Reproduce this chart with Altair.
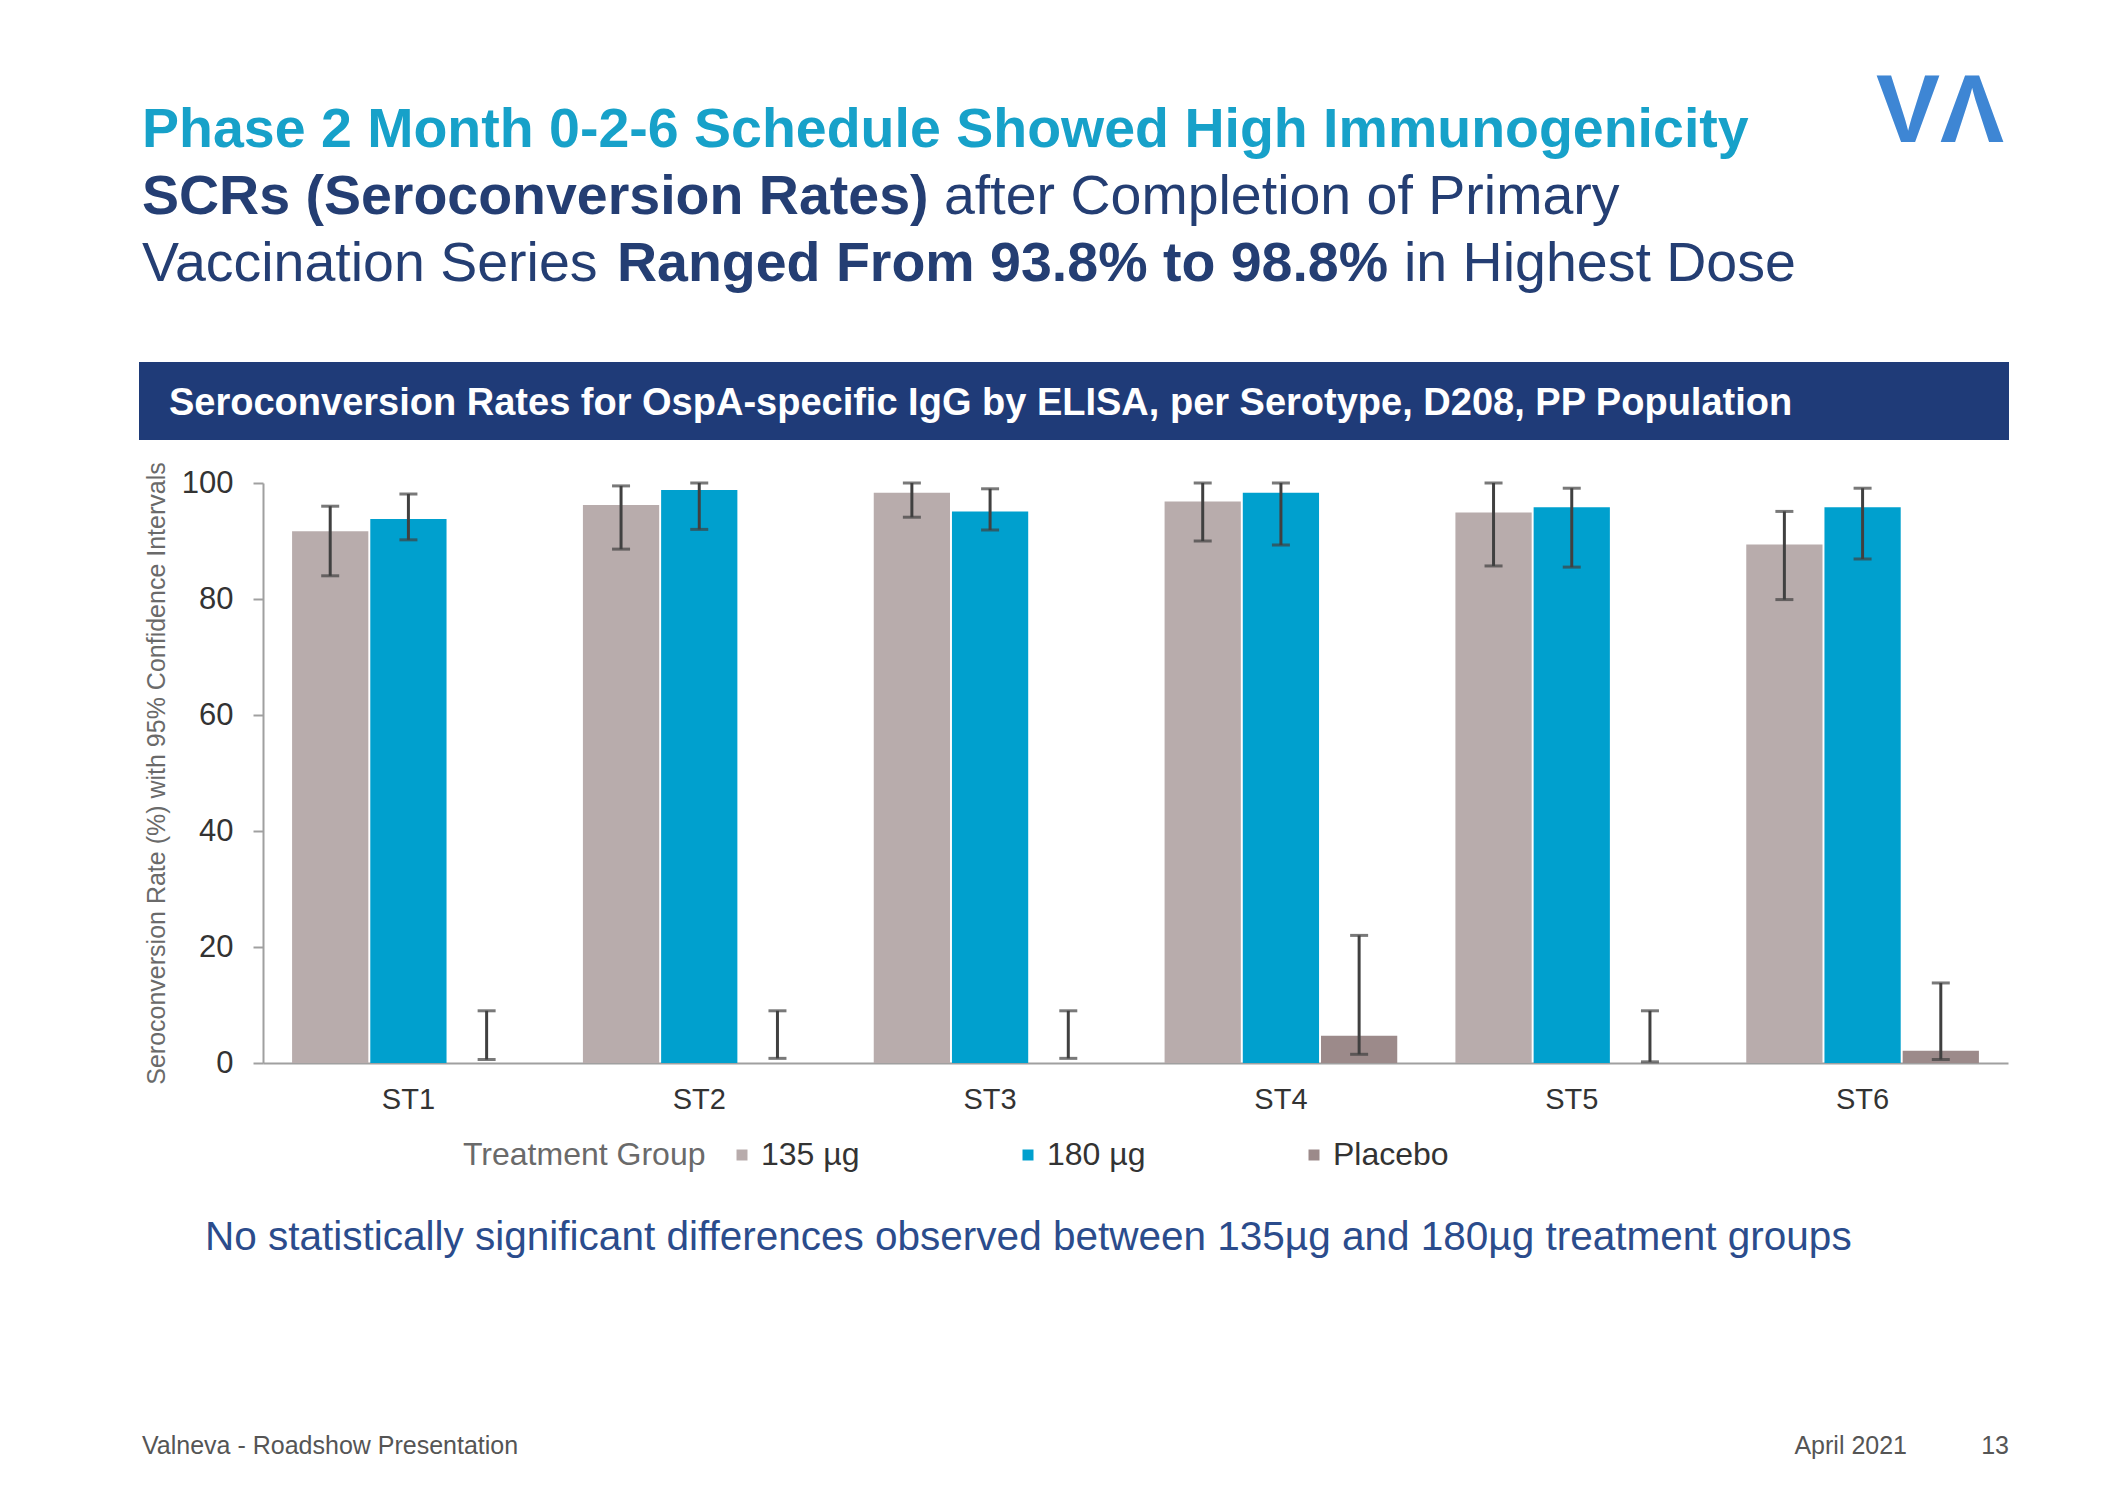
import altair as alt
import pandas as pd

# ---------------- data ----------------
serotypes = ["ST1", "ST2", "ST3", "ST4", "ST5", "ST6"]
groups = ["135 µg", "180 µg", "Placebo"]
group_colors = ["#B8ACAC", "#00A0CE", "#9C8A8A"]

scr_135 = [91.7, 96.2, 98.3, 96.8, 94.9, 89.4]
lo_135 = [84.0, 88.6, 94.1, 90.0, 85.7, 79.9]
hi_135 = [96.0, 99.5, 100.0, 100.0, 100.0, 95.1]

scr_180 = [93.8, 98.8, 95.1, 98.3, 95.8, 95.8]
lo_180 = [90.2, 92.0, 91.9, 89.3, 85.5, 86.9]
hi_180 = [98.1, 100.0, 99.0, 100.0, 99.1, 99.1]

scr_pbo = [0.0, 0.0, 0.0, 4.7, 0.0, 2.1]
lo_pbo = [0.6, 0.8, 0.8, 1.5, 0.2, 0.6]
hi_pbo = [9.0, 9.0, 9.0, 22.0, 9.0, 13.8]

y_ticks = [0, 20, 40, 60, 80, 100]

title_line1 = "Phase 2 Month 0-2-6 Schedule Showed High Immunogenicity"
title_line2 = ["SCRs (Seroconversion Rates)", "after Completion of Primary"]
title_line3 = ["Vaccination Series", "Ranged From 93.8% to 98.8%", "in Highest Dose"]
header_text = "Seroconversion Rates for OspA-specific IgG by ELISA, per Serotype, D208, PP Population"
y_title = "Seroconversion Rate (%) with 95% Confidence Intervals"
legend_title = "Treatment Group"
footnote = "No statistically significant differences observed between 135µg and 180µg treatment groups"
footer_left = "Valneva - Roadshow Presentation"
footer_date = "April 2021"
footer_page = "13"
logo_text = "VΛ"

# ---------------- layout ----------------
FONT = "Liberation Sans"
PL, PT = 263, 483          # plot-area origin on the page
W, H = 1745, 580            # plot-area size
PR, PB = 2118 - PL - W, 1500 - PT - H

NAVY = "#243E73"
TEAL = "#17A1C9"

rows = []
for i, st in enumerate(serotypes):
    for g, v, lo, hi in ((groups[0], scr_135, lo_135, hi_135),
                         (groups[1], scr_180, lo_180, hi_180),
                         (groups[2], scr_pbo, lo_pbo, hi_pbo)):
        rows.append({"serotype": st, "group": g, "value": v[i], "lo": lo[i], "hi": hi[i]})
df = pd.DataFrame(rows)

x_enc = alt.X("serotype:N", sort=serotypes,
              scale=alt.Scale(paddingInner=0.2, paddingOuter=0.1),
              axis=alt.Axis(title=None, labelAngle=0, labelFontSize=29, labelColor="#333333",
                            labelFont=FONT, ticks=False, domainColor="#A0A0A0", domainWidth=2,
                            labelPadding=22))
xoff_enc = alt.XOffset("group:N", sort=groups, scale=alt.Scale(domain=groups, paddingInner=0.025))
y_scale = alt.Scale(domain=[0, 100], nice=False)

bars = alt.Chart(df).mark_bar().encode(
    x=x_enc,
    xOffset=xoff_enc,
    y=alt.Y("value:Q", scale=y_scale,
            axis=alt.Axis(values=y_ticks, title=y_title, grid=False, labelFontSize=31,
                          labelColor="#333333", labelFont=FONT, tickSize=10, tickColor="#A0A0A0",
                          tickWidth=2, domainColor="#A0A0A0", domainWidth=2, labelPadding=20,
                          titleFontSize=25, titleColor="#6A6A6A", titleFontWeight="normal",
                          titleFont=FONT, titlePadding=12)),
    color=alt.Color("group:N", sort=groups,
                    scale=alt.Scale(domain=groups, range=group_colors),
                    legend=alt.Legend(orient="none", legendX=200, legendY=656,
                                      direction="horizontal", title=legend_title,
                                      titleOrient="left", titleFontSize=32, titleLimit=500,
                                      titleFontWeight="normal", titleColor="#6A6A6A",
                                      titleFont=FONT, titlePadding=20,
                                      labelFontSize=32, labelColor="#333333", labelFont=FONT,
                                      labelLimit=400,
                                      symbolType="square", symbolSize=121, symbolStrokeWidth=0,
                                      columnPadding=152, labelOffset=3)),
)

err_rule = alt.Chart(df).mark_rule(color="#404040", strokeWidth=3).encode(
    x=alt.X("serotype:N", sort=serotypes),
    xOffset=alt.XOffset("group:N", sort=groups),
    y=alt.Y("lo:Q", scale=y_scale),
    y2="hi:Q",
)
err_hi = alt.Chart(df).mark_tick(color="#404040", thickness=3, size=18).encode(
    x=alt.X("serotype:N", sort=serotypes),
    xOffset=alt.XOffset("group:N", sort=groups),
    y=alt.Y("hi:Q", scale=y_scale),
)
err_lo = alt.Chart(df).mark_tick(color="#404040", thickness=3, size=18).encode(
    x=alt.X("serotype:N", sort=serotypes),
    xOffset=alt.XOffset("group:N", sort=groups),
    y=alt.Y("lo:Q", scale=y_scale),
)


def txt(s, x, y, size, color, weight="normal", align="left", baseline="alphabetic"):
    return alt.Chart(pd.DataFrame({"t": [s]})).mark_text(
        align=align, baseline=baseline, font=FONT, fontSize=size,
        fontWeight=weight, color=color,
    ).encode(x=alt.value(x - PL), y=alt.value(y - PT), text="t:N")


header_bar = alt.Chart(pd.DataFrame({"a": [0]})).mark_rect(color="#1F3B78").encode(
    x=alt.value(139 - PL), x2=alt.value(2009 - PL),
    y=alt.value(362 - PT), y2=alt.value(440 - PT),
)

TS = 55.5
layers = [
    header_bar,
    txt(header_text, 169, 415, 38, "#FFFFFF", "bold"),
    txt(title_line1, 142, 147, TS, TEAL, "bold"),
    txt(title_line2[0], 142, 214, TS, NAVY, "bold"),
    txt(title_line2[1], 944, 214, TS, NAVY),
    txt(title_line3[0], 142, 281, TS, NAVY),
    txt(title_line3[1], 617, 281, TS, NAVY, "bold"),
    txt(title_line3[2], 1404, 281, TS, NAVY),
    txt(logo_text, 2004, 142, 96, "#3E86D4", "bold", align="right"),
    bars, err_rule, err_hi, err_lo,
    txt(footnote, 205, 1250, 40.5, "#2B4C8C"),
    txt(footer_left, 142, 1454, 25, "#555555"),
    txt(footer_date, 1907, 1454, 25, "#555555", align="right"),
    txt(footer_page, 2009, 1454, 25, "#555555", align="right"),
]

chart = alt.layer(*layers).properties(
    width=W, height=H,
    autosize=alt.AutoSizeParams(type="none"),
    padding={"left": PL, "top": PT, "right": PR, "bottom": PB},
    background="#FFFFFF",
).configure(font=FONT).configure_view(strokeWidth=0)

chart.save("out.html", embed_options={"renderer": "svg", "actions": False})
